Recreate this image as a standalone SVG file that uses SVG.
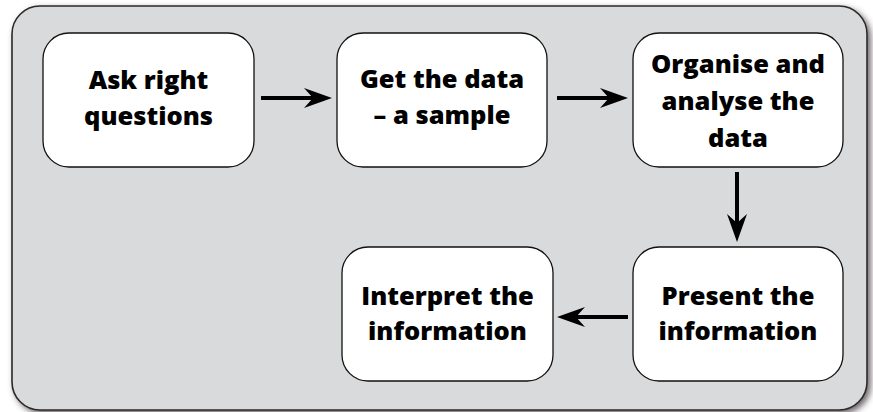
<svg xmlns="http://www.w3.org/2000/svg" width="873" height="412" viewBox="0 0 873 412">
  <defs>
    <filter id="panelShadow" x="-5%" y="-5%" width="110%" height="110%">
      <feDropShadow dx="3" dy="3" stdDeviation="3" flood-color="#4a3c44" flood-opacity="0.8"/>
    </filter>
    <marker id="head" viewBox="-29 -11 29 22" markerWidth="29" markerHeight="22" refX="-14" refY="0" orient="auto" markerUnits="userSpaceOnUse">
      <path d="M0,0 L-28,-10 L-19,0 L-28,10 Z" fill="#000"/>
    </marker>
    <style>
      .panel { fill: #d9dadb; stroke: #2b2b2b; stroke-width: 1.6; }
      .box { fill: #ffffff; stroke: #111; stroke-width: 1.3; }
      .label { font-family: "Open Sans", "Liberation Sans", sans-serif; font-weight: 800; font-size: 25.5px; fill: #000; text-anchor: middle; }
      .arrow { stroke: #000; stroke-width: 4; fill: none; marker-end: url(#head); }
    </style>
  </defs>

  <!-- background panel -->
  <rect class="panel" x="12" y="6" width="855" height="404" rx="28" ry="28" filter="url(#panelShadow)"/>

  <!-- connectors -->
  <g id="connectors">
    <line class="arrow" x1="261" y1="98" x2="318" y2="98"/>
    <line class="arrow" x1="557" y1="98" x2="614" y2="98"/>
    <line class="arrow" x1="737" y1="172" x2="737" y2="228"/>
    <line class="arrow" x1="628" y1="317" x2="571" y2="317"/>
  </g>

  <g id="node-ask">
    <rect class="box" x="43" y="33" width="211" height="134" rx="26" ry="26"/>
    <text class="label" x="148.5" y="89">Ask right</text>
    <text class="label" x="148.5" y="125">questions</text>
  </g>

  <g id="node-get">
    <rect class="box" x="337" y="33" width="210" height="134" rx="26" ry="26"/>
    <text class="label" x="442" y="88">Get the data</text>
    <text class="label" x="442" y="124">– a sample</text>
  </g>

  <g id="node-organise">
    <rect class="box" x="633" y="33" width="210" height="134" rx="26" ry="26"/>
    <text class="label" x="738" y="73">Organise and</text>
    <text class="label" x="738" y="110">analyse the</text>
    <text class="label" x="738" y="147">data</text>
  </g>

  <g id="node-present">
    <rect class="box" x="633" y="247" width="210" height="134" rx="26" ry="26"/>
    <text class="label" x="738" y="305">Present the</text>
    <text class="label" x="738" y="340">information</text>
  </g>

  <g id="node-interpret">
    <rect class="box" x="342" y="247" width="211" height="134" rx="26" ry="26"/>
    <text class="label" x="447.5" y="305">Interpret the</text>
    <text class="label" x="447.5" y="340">information</text>
  </g>
</svg>
